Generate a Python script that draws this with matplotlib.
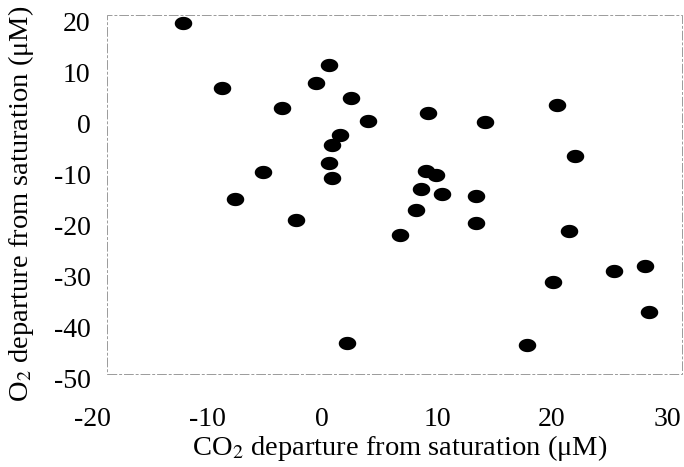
import numpy as np
import matplotlib
matplotlib.use("Agg")
import matplotlib.pyplot as plt
from matplotlib.path import Path
from matplotlib.patches import Rectangle

plt.rcParams['font.family'] = ['Liberation Serif', 'DejaVu Serif']
plt.rcParams['mathtext.fontset'] = 'stix'
plt.rcParams['axes.unicode_minus'] = False

# --- Data ---
co2 = [-12.1, 0.6, -0.5, -8.7, 2.5, -3.5, 4.0, 1.6, 0.9, 0.6, -5.1, 0.9,
       -7.6, -2.3, 2.2, 9.2, 14.2, 20.4, 22.0, 9.0, 9.9, 8.6, 10.4, 13.4,
       8.2, 13.4, 6.8, 21.5, 25.4, 28.1, 20.1, 28.4, 17.8]
o2 = [19.8, 11.5, 8.0, 7.0, 5.0, 3.0, 0.5, -2.3, -4.2, -7.8, -9.6, -10.7,
      -14.9, -19.0, -43.0, 2.0, 0.4, 3.6, -6.4, -9.3, -10.0, -12.8, -13.9,
      -14.3, -16.9, -19.5, -21.8, -21.1, -29.0, -27.9, -31.1, -37.0, -43.4]

x_ticks = [-20, -10, 0, 10, 20, 30]
y_ticks = [-50, -40, -30, -20, -10, 0, 10, 20]

W, H = 684, 467
fig = plt.figure(figsize=(W / 100, H / 100), dpi=100)

# axes placed so tick labels sit where the reference draws them
ax_l, ax_r, ax_t, ax_b = 92, 667, 21.7, 378.3
ax = fig.add_axes([ax_l / W, 1 - ax_b / H, (ax_r - ax_l) / W, (ax_b - ax_t) / H])
ax.set_xlim(-20, 30)
ax.set_ylim(-50, 20)
ax.set_xticks(x_ticks)
ax.set_yticks(y_ticks)
ax.tick_params(length=0, labelsize=20)
ax.tick_params(axis='x', pad=21)
ax.tick_params(axis='y', pad=1)
for s in ax.spines.values():
    s.set_visible(False)
ax.patch.set_alpha(0)

# flattened ellipse marker
t = np.linspace(0, 2 * np.pi, 60)
ell = Path(np.column_stack([np.cos(t), 0.76 * np.sin(t)]), closed=True)
ax.plot(co2, o2, linestyle='none', marker=ell, markersize=12.6,
        color='black', markeredgewidth=0, clip_on=False)

# faint plot-area border (offset from the tick labels as in the scan)
fig.patches.append(Rectangle((107 / W, 1 - 374 / H), (682 - 107) / W, (374 - 15) / H,
                             transform=fig.transFigure, fill=False,
                             edgecolor='#9a9a9a', linewidth=0.7,
                             linestyle=(0, (10, 2, 3, 2))))

fig.text(400 / W, 1 - 448 / H, 'CO$_2$ departure from saturation (\u03bcM)',
         ha='center', va='center', fontsize=20.5)
fig.text(21 / W, 1 - 204 / H, 'O$_2$ departure from saturation (\u03bcM)',
         ha='center', va='center', rotation=90, fontsize=20.5)

fig.savefig('out.png', dpi=100)
